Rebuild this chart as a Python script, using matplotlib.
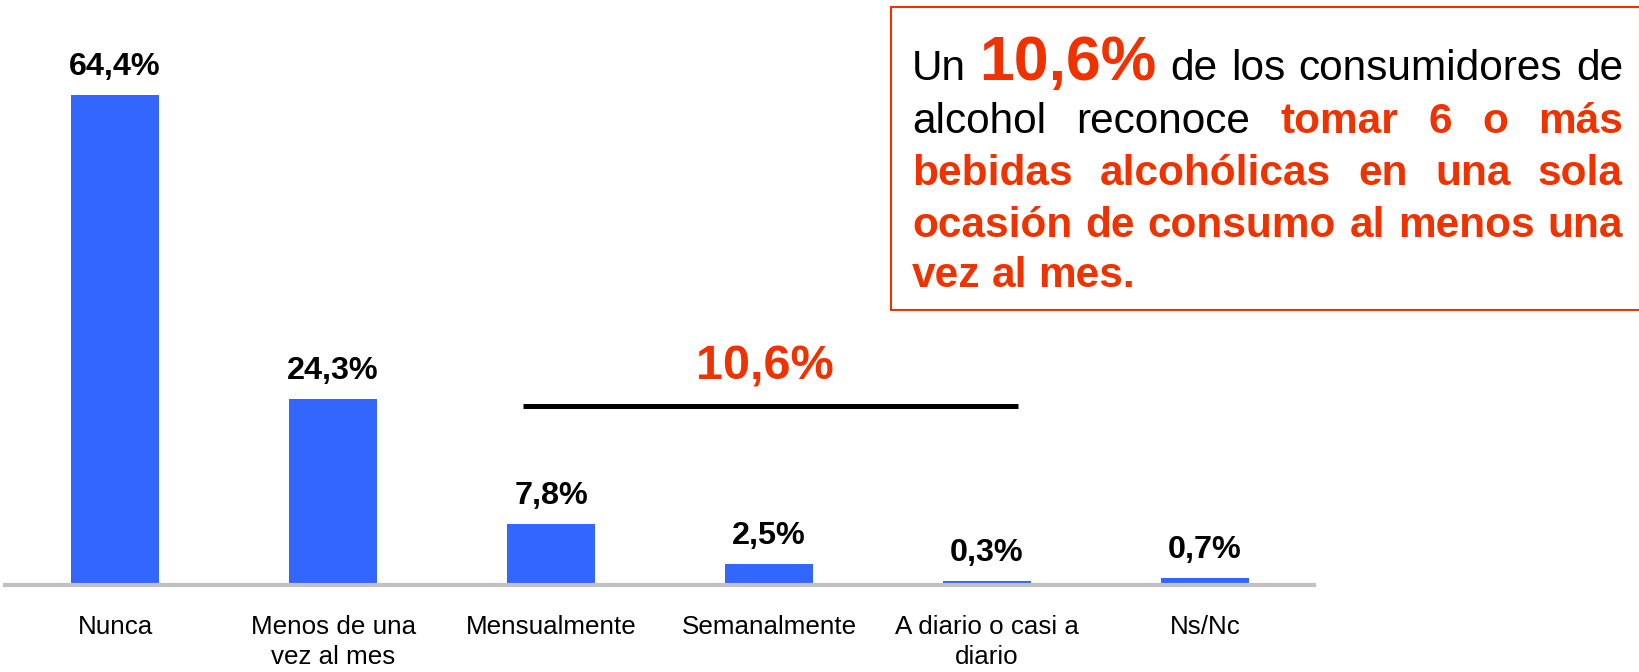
import matplotlib
matplotlib.use("Agg")
from matplotlib import pyplot as plt
import numpy as np

categorias = ["Nunca", "Menos de una\nvez al mes", "Mensualmente", "Semanalmente",
              "A diario o casi a\ndiario", "Ns/Nc"]
valores = [64.4, 24.3, 7.8, 2.5, 0.3, 0.7]
etiquetas = ["64,4%", "24,3%", "7,8%", "2,5%", "0,3%", "0,7%"]
total_mes = "10,6%"

azul = "#3366FF"
rojo = "#EE3300"

plt.rcParams['font.family'] = ['Liberation Sans', 'DejaVu Sans']

W, H = 1640, 672
fig = plt.figure(figsize=(W / 100, H / 100), dpi=100)
ax = fig.add_axes([5 / W, 1 - 583 / H, 1309 / W, 563 / H])

# eje inferior gris, justo debajo de las barras (antes de fijar los ticks)
for s in ["top", "left", "right"]:
    ax.spines[s].set_visible(False)
ax.spines["bottom"].set_position(("outward", 1.5))
ax.spines["bottom"].set_color("#c0c0c0")
ax.spines["bottom"].set_linewidth(3)

x = np.arange(len(valores))
ax.bar(x, valores, width=0.40, color=azul, zorder=2)
ax.set_xlim(-0.505, len(valores) - 0.5)
ax.set_ylim(0, 563 / 7.58)

for xi, v, t in zip(x, valores, etiquetas):
    ax.annotate(t, (xi, v), xytext=(0, 14.5), textcoords="offset points",
                ha="center", va="baseline", fontsize=23.3, fontweight="bold")

ax.set_xticks(x)
ax.set_xticklabels(categorias, fontsize=18.7, linespacing=1.3)
ax.tick_params(axis="x", length=0, pad=21.5)
ax.set_yticks([])

# linea que agrupa mensualmente / semanalmente / a diario
ax.plot([1.871, 4.142], [23.35, 23.35], color="black", lw=3.6, solid_capstyle="butt")
ax.text(2.98, 26.85, total_mes, ha="center", va="baseline", fontsize=35,
        fontweight="bold", color=rojo)

# recuadro con el texto
fig.patches.append(plt.Rectangle((891 / W, 1 - 310 / H), (W - 891) / W, 303 / H,
                                 transform=fig.transFigure, fill=False,
                                 edgecolor=rojo, lw=1.5))

fs = 30.5
lineas = [
    [("Un", "n", fs), ("10,6%", "r", 45), ("de", "n", fs), ("los", "n", fs),
     ("consumidores", "n", fs), ("de", "n", fs)],
    [("alcohol", "n", fs), ("reconoce", "n", fs), ("tomar", "r", fs), ("6", "r", fs),
     ("o", "r", fs), ("más", "r", fs)],
    [("bebidas", "r", fs), ("alcohólicas", "r", fs), ("en", "r", fs), ("una", "r", fs),
     ("sola", "r", fs)],
    [("ocasión", "r", fs), ("de", "r", fs), ("consumo", "r", fs), ("al", "r", fs),
     ("menos", "r", fs), ("una", "r", fs)],
    [("vez", "r", fs), ("al", "r", fs), ("mes.", "r", fs)],
]
bases = [80, 133, 185, 237, 287]
x0, x1 = 912, 1623

renderer = fig.canvas.get_renderer()
for n, (linea, yb) in enumerate(zip(lineas, bases)):
    textos = []
    for palabra, estilo, tam in linea:
        if estilo == "r":
            t = fig.text(0, 1 - yb / H, palabra, fontsize=tam, fontweight="bold",
                         color=rojo, va="baseline", ha="left")
        else:
            t = fig.text(0, 1 - yb / H, palabra, fontsize=tam, color="black",
                         va="baseline", ha="left")
        textos.append(t)
    anchos = [t.get_window_extent(renderer).width for t in textos]
    if n < len(lineas) - 1:
        hueco = (x1 - x0 - sum(anchos)) / (len(textos) - 1)
    else:
        hueco = 11
    pos = x0
    for t, a in zip(textos, anchos):
        t.set_x(pos / W)
        pos += a + hueco

fig.savefig("out.png", dpi=100)
